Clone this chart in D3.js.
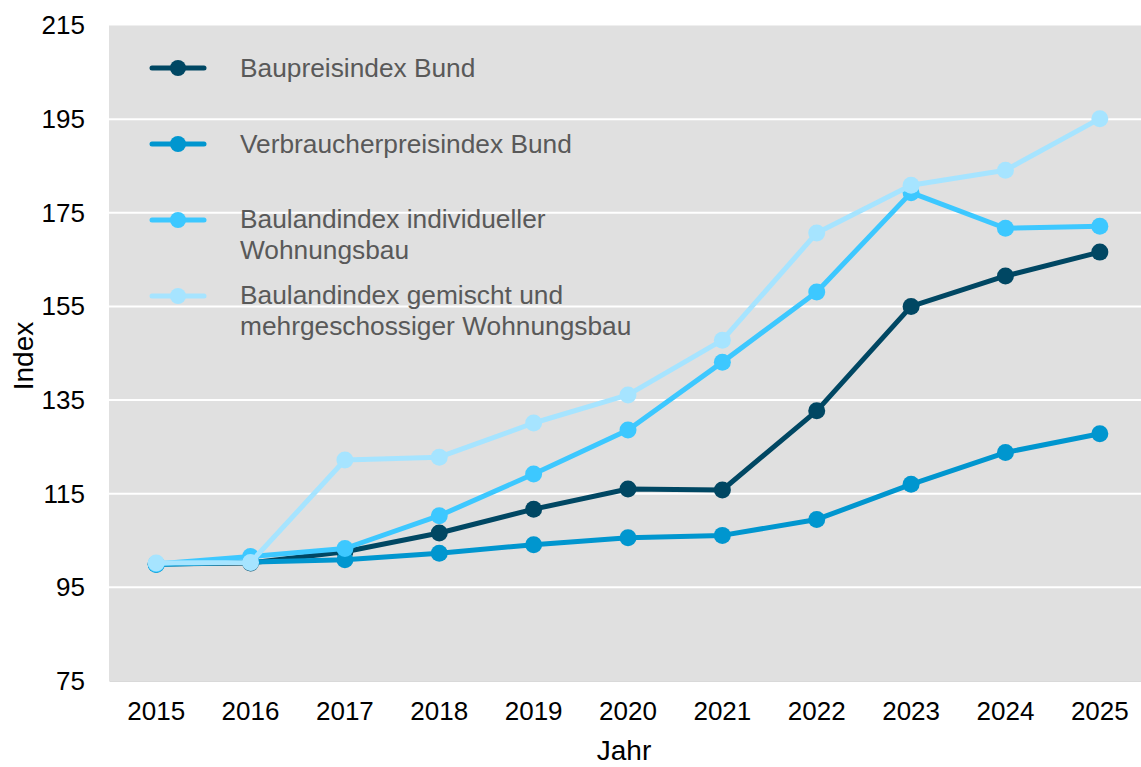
<!DOCTYPE html>
<html><head><meta charset="utf-8">
<script src="https://cdn.jsdelivr.net/npm/d3@7"></script>
<style>body{margin:0;background:#fff}svg{display:block}text{font-family:"Liberation Sans",Arial,sans-serif}</style>
</head><body><svg id="c" width="1141" height="767"></svg>
<script>
const years = ["2015","2016","2017","2018","2019","2020","2021","2022","2023","2024","2025"];
const yTicks = [75,95,115,135,155,175,195,215];
const baupreis = [100,100.2,102.6,106.6,111.7,116.0,115.8,132.7,155.0,161.5,166.6];
const verbraucher = [99.9,100.4,100.9,102.3,104.1,105.6,106.1,109.5,117.0,123.8,127.8];
const baulandInd = [100,101.6,103.3,110.3,119.2,128.6,143.1,158.1,179.3,171.7,172.1];
const baulandGem = [100.2,100.3,122.2,122.8,130.1,136.1,147.8,170.7,180.9,184.1,195.1];
const seriesNames = [["Baupreisindex Bund"],["Verbraucherpreisindex Bund"],["Baulandindex individueller","Wohnungsbau"],["Baulandindex gemischt und","mehrgeschossiger Wohnungsbau"]];
const seriesData = [baupreis, verbraucher, baulandInd, baulandGem];
const colors = ["#004763","#0096cf","#3dc8ff","#a6e4ff"];

(function(){
const svg = d3.select("#c");
const pL=109, pR=1147, pT=25.5, pB=681;
const x = d3.scaleBand().domain(years).range([pL,pR]);
const y = d3.scaleLinear().domain([75,215]).range([pB,pT]);

svg.append("rect").attr("x",pL).attr("y",pT).attr("width",pR-pL).attr("height",pB-pT).attr("fill","#e0e0e0");
svg.selectAll(".grid").data(yTicks.filter(d=>d>75&&d<215)).enter().append("line")
  .attr("x1",pL).attr("x2",pR).attr("y1",d=>y(d)).attr("y2",d=>y(d)).attr("stroke","#fff").attr("stroke-width",2);

const yAxis = svg.append("g").attr("transform",`translate(${pL},0)`).call(d3.axisLeft(y).tickValues(yTicks).tickSize(0).tickPadding(24));
yAxis.select(".domain").remove();
yAxis.selectAll("text").attr("font-size",26).attr("fill","#000").attr("font-family","Liberation Sans, Arial, sans-serif");

const xAxis = svg.append("g").attr("transform",`translate(0,${pB})`).call(d3.axisBottom(x).tickSize(0).tickPadding(21));
xAxis.select(".domain").attr("stroke","#d9d9d9").attr("stroke-width",1);
xAxis.selectAll("text").attr("font-size",26).attr("fill","#000").attr("font-family","Liberation Sans, Arial, sans-serif");

svg.append("text").attr("x",624).attr("y",760).attr("text-anchor","middle").attr("font-size",28).text("Jahr");
svg.append("text").attr("transform","translate(33,356) rotate(-90)").attr("text-anchor","middle").attr("font-size",28).text("Index");

const line = d3.line().x((d,i)=>x(years[i])+x.bandwidth()/2).y(d=>y(d));
seriesData.forEach((s,k)=>{
  const g = svg.append("g");
  g.append("path").attr("d",line(s)).attr("fill","none").attr("stroke",colors[k]).attr("stroke-width",5).attr("stroke-linejoin","round");
  g.selectAll("circle").data(s).enter().append("circle")
    .attr("cx",(d,i)=>x(years[i])+x.bandwidth()/2).attr("cy",d=>y(d)).attr("r",8.5).attr("fill",colors[k]);
});

const legY = [68,144,220,296];
const legBase = [77,153,228,304];
seriesNames.forEach((n,k)=>{
  const g = svg.append("g");
  g.append("line").attr("x1",152).attr("x2",204).attr("y1",legY[k]).attr("y2",legY[k]).attr("stroke",colors[k]).attr("stroke-width",5).attr("stroke-linecap","round");
  g.append("circle").attr("cx",178).attr("cy",legY[k]).attr("r",8).attr("fill",colors[k]);
  n.forEach((t,j)=>{
    g.append("text").attr("x",240).attr("y",legBase[k]+j*31).attr("font-size",26.3).attr("fill","#595959").text(t);
  });
});
})();
</script></body></html>
